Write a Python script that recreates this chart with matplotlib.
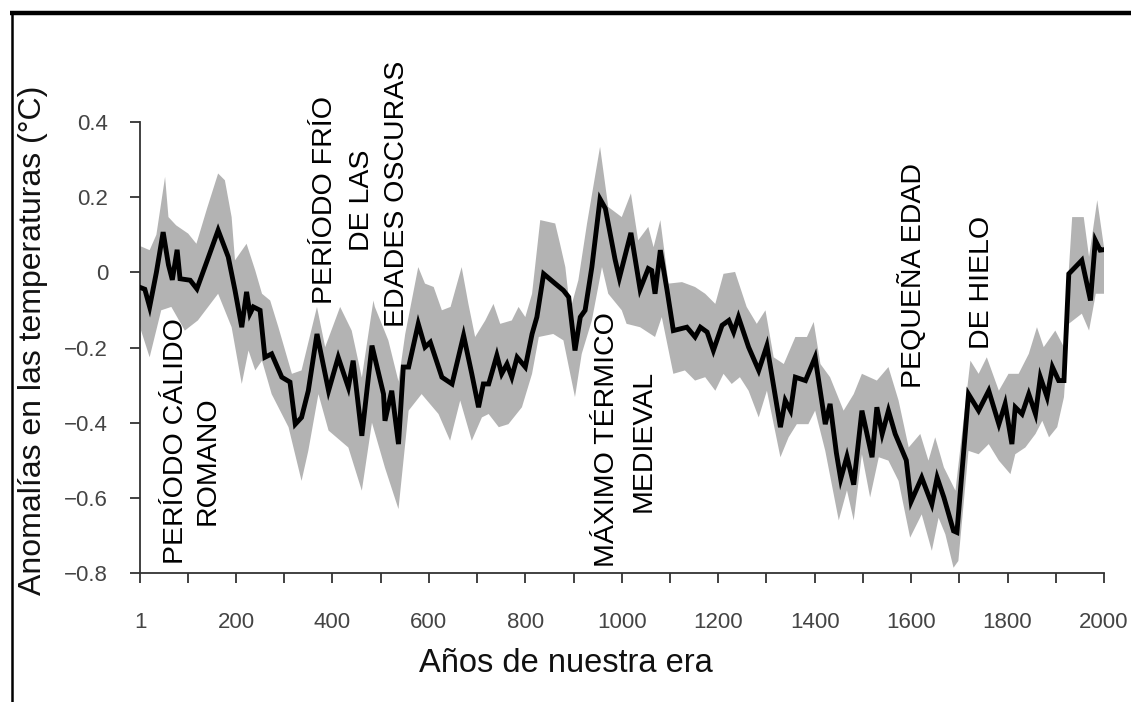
import matplotlib
matplotlib.use("Agg")
import matplotlib.pyplot as plt
from matplotlib.lines import Line2D
import numpy as np

plt.rcParams['font.family'] = ['Liberation Sans', 'DejaVu Sans']

# ---- data ----
years = [1, 11, 21, 35, 49, 60, 68, 78, 84, 105, 119, 140, 163, 184, 198, 212, 222, 229, 236,
         250, 260, 274, 295, 312, 323, 336, 350, 368, 392, 412, 433, 443, 461, 482, 506, 509,
         523, 537, 547, 558, 578, 592, 603, 627, 648, 672, 689, 703, 713, 724, 741, 751, 762,
         772, 783, 800, 814, 824, 838, 862, 879, 890, 903, 914, 924, 938, 955, 966, 986, 995,
         1019, 1038, 1055, 1062, 1069, 1080, 1094, 1107, 1135, 1152, 1163, 1177, 1190, 1208,
         1222, 1232, 1242, 1263, 1284, 1301, 1329, 1339, 1350, 1360, 1381, 1401, 1422, 1432,
         1445, 1454, 1467, 1481, 1498, 1519, 1529, 1540, 1553, 1567, 1590, 1600, 1622, 1643,
         1654, 1668, 1688, 1695, 1719, 1740, 1761, 1782, 1795, 1809, 1816, 1830, 1844, 1858,
         1868, 1882, 1893, 1906, 1917, 1927, 1954, 1972, 1982, 1992, 1998]
temp = [-0.04, -0.045, -0.092, 0.0, 0.107, 0.02, -0.02, 0.06, -0.017, -0.021, -0.044, 0.03,
        0.112, 0.041, -0.048, -0.146, -0.052, -0.11, -0.092, -0.101, -0.226, -0.217, -0.279,
        -0.292, -0.404, -0.386, -0.315, -0.164, -0.315, -0.226, -0.306, -0.235, -0.435, -0.195,
        -0.324, -0.395, -0.315, -0.457, -0.252, -0.252, -0.137, -0.199, -0.186, -0.279, -0.297,
        -0.168, -0.27, -0.359, -0.297, -0.297, -0.221, -0.27, -0.244, -0.279, -0.226, -0.252,
        -0.164, -0.119, -0.004, -0.03, -0.048, -0.066, -0.208, -0.119, -0.101, 0.014, 0.195,
        0.170, 0.035, -0.015, 0.105, -0.045, 0.01, 0.005, -0.057, 0.059, -0.048, -0.155,
        -0.146, -0.172, -0.146, -0.159, -0.208, -0.141, -0.128, -0.159, -0.119, -0.199, -0.261,
        -0.195, -0.412, -0.341, -0.368, -0.279, -0.288, -0.226, -0.404, -0.35, -0.48, -0.55,
        -0.49, -0.565, -0.368, -0.492, -0.359, -0.43, -0.368, -0.43, -0.50, -0.61, -0.546,
        -0.617, -0.546, -0.599, -0.688, -0.692, -0.324, -0.368, -0.315, -0.404, -0.35, -0.457,
        -0.359, -0.377, -0.324, -0.377, -0.279, -0.332, -0.252, -0.288, -0.288, -0.004, 0.032,
        -0.075, 0.085, 0.059, 0.06]

upper_years = [1, 21, 35, 53, 60, 76, 101, 118, 140, 163, 177, 191, 198, 222, 240, 254, 271,
               288, 316, 336, 368, 385, 416, 440, 461, 485, 488, 516, 537, 551, 578, 592, 610,
               627, 645, 668, 682, 696, 717, 734, 748, 772, 786, 800, 814, 831, 862, 872, 883,
               893, 910, 928, 955, 972, 1000, 1019, 1034, 1055, 1066, 1080, 1097, 1125, 1152,
               1173, 1194, 1211, 1235, 1259, 1280, 1298, 1315, 1336, 1360, 1384, 1398, 1412,
               1432, 1460, 1481, 1498, 1529, 1553, 1574, 1595, 1619, 1636, 1650, 1668, 1692,
               1723, 1740, 1757, 1782, 1802, 1823, 1844, 1861, 1875, 1899, 1917, 1934, 1958,
               1969, 1986, 2000]
upper = [0.07, 0.059, 0.10, 0.254, 0.147, 0.125, 0.103, 0.076, 0.17, 0.263, 0.245, 0.147,
         0.032, 0.076, 0.005, -0.057, -0.075, -0.146, -0.27, -0.261, -0.092, -0.199, -0.092,
         -0.155, -0.28, -0.075, -0.092, -0.181, -0.29, -0.164, 0.014, -0.03, -0.039, -0.101,
         -0.092, 0.014, -0.084, -0.172, -0.128, -0.084, -0.137, -0.128, -0.092, -0.119,
         -0.057, 0.139, 0.13, 0.076, 0.014, -0.101, -0.021, 0.13, 0.334, 0.174, 0.147, 0.21,
         0.085, 0.121, 0.067, 0.139, -0.03, -0.026, -0.039, -0.057, -0.084, -0.004, 0.001,
         -0.092, -0.137, -0.101, -0.226, -0.244, -0.172, -0.172, -0.132, -0.244, -0.279,
         -0.368, -0.324, -0.27, -0.288, -0.252, -0.341, -0.466, -0.43, -0.501, -0.439,
         -0.519, -0.581, -0.235, -0.27, -0.226, -0.315, -0.27, -0.27, -0.217, -0.146, -0.199,
         -0.155, -0.199, 0.147, 0.147, 0.041, 0.192, 0.067]

lower_years = [1, 21, 45, 66, 94, 121, 163, 191, 212, 226, 240, 254, 274, 309, 336, 350, 371,
               392, 433, 461, 482, 509, 537, 558, 585, 620, 644, 665, 689, 710, 724, 745, 765,
               793, 814, 828, 858, 879, 903, 917, 938, 959, 972, 1000, 1010, 1038, 1069, 1083,
               1107, 1131, 1152, 1173, 1194, 1211, 1228, 1245, 1263, 1284, 1301, 1329, 1346,
               1363, 1387, 1401, 1422, 1450, 1467, 1481, 1498, 1515, 1533, 1553, 1574, 1598,
               1622, 1643, 1657, 1671, 1688, 1698, 1719, 1740, 1761, 1782, 1806, 1816, 1837,
               1858, 1872, 1886, 1903, 1917, 1927, 1954, 1969, 1983, 2000]
lower = [-0.146, -0.226, -0.101, -0.092, -0.155, -0.128, -0.057, -0.146, -0.297, -0.208,
         -0.261, -0.235, -0.324, -0.412, -0.555, -0.475, -0.324, -0.421, -0.466, -0.581,
         -0.40, -0.52, -0.63, -0.368, -0.324, -0.377, -0.448, -0.341, -0.448, -0.386, -0.377,
         -0.412, -0.404, -0.359, -0.27, -0.172, -0.164, -0.181, -0.332, -0.217, -0.128, 0.014,
         -0.057, -0.101, -0.137, -0.146, -0.172, -0.119, -0.27, -0.261, -0.288, -0.279,
         -0.315, -0.27, -0.297, -0.279, -0.315, -0.386, -0.315, -0.492, -0.439, -0.404,
         -0.404, -0.368, -0.475, -0.66, -0.58, -0.66, -0.484, -0.599, -0.492, -0.501, -0.555,
         -0.706, -0.644, -0.741, -0.653, -0.697, -0.786, -0.768, -0.475, -0.484, -0.457,
         -0.501, -0.537, -0.484, -0.466, -0.43, -0.395, -0.439, -0.412, -0.332, -0.137, -0.11,
         -0.155, -0.057, -0.057]

x_major = [1, 200, 400, 600, 800, 1000, 1200, 1400, 1600, 1800, 2000]
x_minor = [100, 300, 500, 700, 900, 1100, 1300, 1500, 1700, 1900]
y_ticks = [-0.8, -0.6, -0.4, -0.2, 0, 0.2, 0.4]
y_labels = ['\u22120.8', '\u22120.6', '\u22120.4', '\u22120.2', '0', '0.2', '0.4']

annotations = [
    ("PERÍODO CÁLIDO", 76, -0.45),
    ("ROMANO", 142, -0.50),
    ("PERÍODO FRÍO", 385, 0.192),
    ("DE LAS", 461, 0.192),
    ("EDADES OSCURAS", 534, 0.208),
    ("MÁXIMO TÉRMICO", 970, -0.445),
    ("MEDIEVAL", 1045, -0.448),
    ("PEQUEÑA EDAD", 1603, -0.008),
    ("DE HIELO", 1748, -0.027),
]

# ---- figure ----
W, H = 1131, 702
fig = plt.figure(figsize=(W / 100, H / 100), dpi=100)
fig.patch.set_facecolor('white')

ax = fig.add_axes([140 / W, 1 - 573 / H, (1104 - 140) / W, (573 - 122) / H])

band = np.r_[upper_years, lower_years[::-1]], np.r_[upper, lower[::-1]]
ax.fill(band[0], band[1], color='#b3b3b3', lw=0, zorder=1)
ax.plot(years, temp, color='black', lw=3.5, solid_joinstyle='miter', zorder=3)

ax.set_xlim(1, 2000)
ax.set_ylim(-0.8, 0.4)

for s in ['top', 'right']:
    ax.spines[s].set_visible(False)
for s in ['left', 'bottom']:
    ax.spines[s].set_color('#333333')
    ax.spines[s].set_linewidth(1.3)

ax.set_xticks(x_major)
ax.set_xticks(x_minor, minor=True)
ax.set_yticks(y_ticks)
ax.set_yticklabels(y_labels)
ax.tick_params(axis='both', which='both', direction='out', length=7, width=1.3,
               color='#333333', labelcolor='#444444', labelsize=16)
ax.tick_params(axis='x', which='both', pad=21)
ax.tick_params(axis='y', which='both', pad=16)

ax.set_xlabel('Años de nuestra era', fontsize=23.5, color='#111111')
ax.set_ylabel('Anomalías en las temperaturas (°C)', fontsize=23, color='#111111')
ax.xaxis.set_label_coords(0.442, -0.167)
ax.yaxis.set_label_coords(-0.095, 0.515)

for txt, xv, yv in annotations:
    ax.text(xv, yv, txt, rotation=90, ha='center', va='center', fontsize=20.5,
            color='black', zorder=5)

# outer frame lines (top thick, left thin)
fig.add_artist(Line2D([10 / W, 1.0], [1 - 12.5 / H, 1 - 12.5 / H], transform=fig.transFigure,
                      color='black', lw=3.2, solid_capstyle='butt'))
fig.add_artist(Line2D([11.5 / W, 11.5 / W], [1 - 11 / H, 0], transform=fig.transFigure,
                      color='black', lw=1.8, solid_capstyle='butt'))

fig.savefig('out.png', dpi=100)
